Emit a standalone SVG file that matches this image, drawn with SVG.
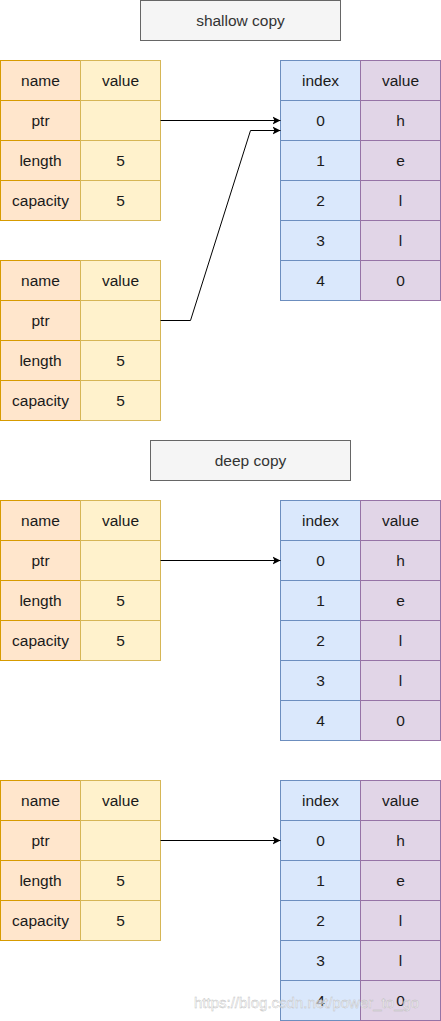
<svg xmlns="http://www.w3.org/2000/svg" width="441" height="1021" viewBox="0 0 441 1021">
<defs>
<style>
text{font-family:"Liberation Sans",Arial,sans-serif;font-size:15.5px;text-anchor:middle;dominant-baseline:central;fill:#1a1a1a}
.title rect{fill:#f5f5f5;stroke:#666666}
.title text{fill:#333333}
.n{fill:#ffe6cc;stroke:#d79b00}
.v{fill:#fff2cc;stroke:#d6b656}
.i{fill:#dae8fc;stroke:#6c8ebf}
.p{fill:#e1d5e7;stroke:#9673a6}
.conn path{fill:none;stroke:#000;stroke-width:1}
.wm{fill:#ffffff;fill-opacity:0.6;stroke:#bbbbbb;stroke-width:0.4;font-size:15px;text-anchor:start}
</style>
<marker id="arr" markerWidth="10" markerHeight="10" refX="8" refY="4" orient="auto" markerUnits="userSpaceOnUse" viewBox="0 0 10 8">
<path d="M0,0 L8,4 L0,8 L2,4 Z" fill="#000"/>
</marker>
<g id="struct">
<rect class="n" x="0.5" y="0.5" width="80" height="40"/><rect class="v" x="80.5" y="0.5" width="80" height="40"/>
<rect class="n" x="0.5" y="40.5" width="80" height="40"/><rect class="v" x="80.5" y="40.5" width="80" height="40"/>
<rect class="n" x="0.5" y="80.5" width="80" height="40"/><rect class="v" x="80.5" y="80.5" width="80" height="40"/>
<rect class="n" x="0.5" y="120.5" width="80" height="40"/><rect class="v" x="80.5" y="120.5" width="80" height="40"/>
<text x="40.5" y="20.5">name</text><text x="120.5" y="20.5">value</text>
<text x="40.5" y="60.5">ptr</text>
<text x="40.5" y="100.5">length</text><text x="120.5" y="100.5">5</text>
<text x="40.5" y="140.5">capacity</text><text x="120.5" y="140.5">5</text>
</g>
<g id="arr5">
<rect class="i" x="280.5" y="0.5" width="80" height="40"/><rect class="p" x="360.5" y="0.5" width="80" height="40"/>
<rect class="i" x="280.5" y="40.5" width="80" height="40"/><rect class="p" x="360.5" y="40.5" width="80" height="40"/>
<rect class="i" x="280.5" y="80.5" width="80" height="40"/><rect class="p" x="360.5" y="80.5" width="80" height="40"/>
<rect class="i" x="280.5" y="120.5" width="80" height="40"/><rect class="p" x="360.5" y="120.5" width="80" height="40"/>
<rect class="i" x="280.5" y="160.5" width="80" height="40"/><rect class="p" x="360.5" y="160.5" width="80" height="40"/>
<rect class="i" x="280.5" y="200.5" width="80" height="40"/><rect class="p" x="360.5" y="200.5" width="80" height="40"/>
<text x="320.5" y="20.5">index</text><text x="400.5" y="20.5">value</text>
<text x="320.5" y="60.5">0</text><text x="400.5" y="60.5">h</text>
<text x="320.5" y="100.5">1</text><text x="400.5" y="100.5">e</text>
<text x="320.5" y="140.5">2</text><text x="400.5" y="140.5">l</text>
<text x="320.5" y="180.5">3</text><text x="400.5" y="180.5">l</text>
<text x="320.5" y="220.5">4</text><text x="400.5" y="220.5">0</text>
</g>
</defs>
<g id="title-shallow" class="title"><rect x="140.5" y="0.5" width="200" height="40"/><text x="240.5" y="20.5">shallow copy</text></g>
<g id="title-deep" class="title"><rect x="150.5" y="440.5" width="200" height="40"/><text x="250.5" y="460.5">deep copy</text></g>
<g id="s1"><use href="#struct" y="60"/></g>
<g id="s2"><use href="#struct" y="260"/></g>
<g id="a1"><use href="#arr5" y="60"/></g>
<g id="s3"><use href="#struct" y="500"/></g>
<g id="a2"><use href="#arr5" y="500"/></g>
<g id="s4"><use href="#struct" y="780"/></g>
<g id="a3"><use href="#arr5" y="780"/></g>
<g id="connectors" class="conn">
<path d="M160.5,120.5 L280.5,120.5" marker-end="url(#arr)"/>
<path d="M160.5,320.5 L190.5,320.5 L250.5,130.5 L280.5,130.5" marker-end="url(#arr)"/>
<path d="M160.5,560.5 L280.5,560.5" marker-end="url(#arr)"/>
<path d="M160.5,840.5 L280.5,840.5" marker-end="url(#arr)"/>
</g>
<text class="wm" x="194" y="1002">https://blog.csdn.net/power_to_go</text>
</svg>
